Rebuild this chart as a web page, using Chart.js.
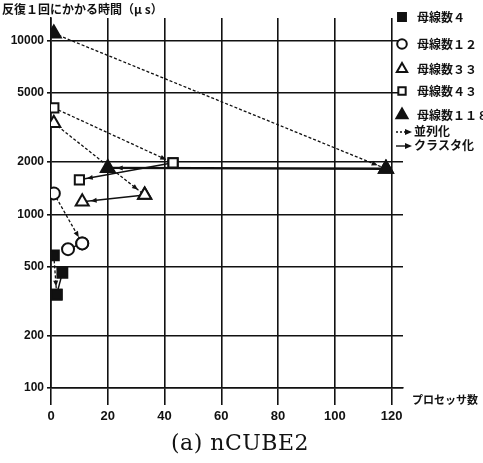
<!DOCTYPE html>
<html>
<head>
<meta charset="utf-8">
<script src="https://cdn.jsdelivr.net/npm/chart.js@4/dist/chart.umd.min.js"></script>
<style>
  html, body { margin: 0; padding: 0; background: #fff; }
  #wrap { width: 483px; height: 463px; position: relative; }
</style>
</head>
<body>
<div id="wrap"><canvas id="chart"></canvas></div>
<script>
// 母線数 series
const seriesNames = ['母線数４', '母線数１２', '母線数３３', '母線数４３', '母線数１１８'];
// 1 processor (start of 並列化)
const serialX = [1, 1, 1, 1, 1];
const serialY = [580, 1320, 3350, 4100, 11000];
// parallelized result
const parallelX = [2, 11, 33, 43, 118];
const parallelY = [345, 680, 1290, 1980, 1830];
// clustered result
const clusterX = [4, 6, 11, 10, 20];
const clusterY = [460, 630, 1180, 1580, 1850];
// axis ticks
const xTicks = [0, 20, 40, 60, 80, 100, 120];
const yTicks = [100, 200, 500, 1000, 2000, 5000, 10000];

// marker look per series
const markers = [
    { style: 'rect', fill: true, r: 7 },
    { style: 'circle', fill: false, r: 6 },
    { style: 'triangle', fill: false, r: 7.5 },
    { style: 'rect', fill: false, r: 6.5 },
    { style: 'triangle', fill: true, r: 8 }
];

const INK = '#111';
const jpFont = '"Noto Sans CJK JP", sans-serif';

// build datasets: dotted 並列化 + solid クラスタ化 per series
const datasets = [];
seriesNames.forEach((name, i) => {
    const m = markers[i];
    const pointOpts = {
        pointStyle: m.style,
        pointRadius: m.r,
        pointHoverRadius: m.r,
        pointBackgroundColor: m.fill ? INK : '#fff',
        pointBorderColor: INK,
        pointBorderWidth: 2
    };
    datasets.push(Object.assign({
        label: name + ' 並列化',
        data: [{ x: serialX[i], y: serialY[i] }, { x: parallelX[i], y: parallelY[i] }],
        showLine: true,
        borderColor: INK,
        borderWidth: 1.3,
        borderDash: [3, 2],
        arrow: true
    }, pointOpts));
    datasets.push(Object.assign({
        label: name + ' クラスタ化',
        data: [{ x: parallelX[i], y: parallelY[i] }, { x: clusterX[i], y: clusterY[i] }],
        showLine: true,
        borderColor: INK,
        borderWidth: i === 4 ? 2.4 : 1.5,
        arrow: true
    }, pointOpts));
});

// small arrowheads at the end of each segment
const arrowPlugin = {
    id: 'arrows',
    afterDatasetsDraw(chart) {
        const ctx = chart.ctx;
        chart.data.datasets.forEach((ds, i) => {
            if (!ds.arrow) return;
            const pts = chart.getDatasetMeta(i).data;
            const a = pts[0], b = pts[1];
            const len = Math.hypot(b.x - a.x, b.y - a.y);
            const off = ds.pointRadius + 1;
            if (len < off * 2 + 8) return;
            const ang = Math.atan2(b.y - a.y, b.x - a.x);
            ctx.save();
            ctx.translate(b.x - Math.cos(ang) * off, b.y - Math.sin(ang) * off);
            ctx.rotate(ang);
            ctx.beginPath();
            ctx.moveTo(0, 0);
            ctx.lineTo(-6, -2.5);
            ctx.lineTo(-6, 2.5);
            ctx.closePath();
            ctx.fillStyle = INK;
            ctx.fill();
            ctx.restore();
        });
    }
};

function drawMarker(ctx, m, x, y) {
    ctx.save();
    ctx.lineWidth = 2;
    ctx.strokeStyle = INK;
    ctx.fillStyle = m.fill ? INK : '#fff';
    ctx.beginPath();
    if (m.style === 'rect') {
        const s = m.r * Math.SQRT1_2;
        ctx.rect(x - s, y - s, s * 2, s * 2);
    } else if (m.style === 'circle') {
        ctx.arc(x, y, m.r, 0, Math.PI * 2);
    } else {
        const r = m.r;
        ctx.moveTo(x, y - r);
        ctx.lineTo(x + r * 0.866, y + r * 0.5);
        ctx.lineTo(x - r * 0.866, y + r * 0.5);
        ctx.closePath();
    }
    ctx.fill();
    ctx.stroke();
    ctx.restore();
}

function drawArrowKey(ctx, x0, x1, y, dashed) {
    ctx.save();
    ctx.strokeStyle = INK;
    ctx.fillStyle = INK;
    ctx.lineWidth = 1.4;
    if (dashed) ctx.setLineDash([2, 2]);
    ctx.beginPath();
    ctx.moveTo(x0, y);
    ctx.lineTo(x1 - 6, y);
    ctx.stroke();
    ctx.setLineDash([]);
    ctx.beginPath();
    ctx.moveTo(x1, y);
    ctx.lineTo(x1 - 7, y - 3);
    ctx.lineTo(x1 - 7, y + 3);
    ctx.closePath();
    ctx.fill();
    ctx.restore();
}

// titles, axis name, caption and the hand-placed legend
const textPlugin = {
    id: 'texts',
    afterDraw(chart) {
        const ctx = chart.ctx;
        ctx.save();
        ctx.fillStyle = INK;
        ctx.textBaseline = 'middle';

        ctx.font = 'bold 12px ' + jpFont;
        ctx.textAlign = 'left';
        ctx.fillText('反復１回にかかる時間（μ s）', 2, 9);

        ctx.font = 'bold 11px ' + jpFont;
        ctx.fillText('プロセッサ数', 412, 400);

        // legend
        const rowsY = [17, 44, 69, 91, 115];
        seriesNames.forEach((name, i) => {
            drawMarker(ctx, Object.assign({}, markers[i], { r: markers[i].r * 0.8 }), 402, rowsY[i]);
            ctx.font = 'bold 12px ' + jpFont;
            ctx.fillStyle = INK;
            ctx.fillText(name, 417, rowsY[i]);
        });
        ctx.font = 'bold 12px ' + jpFont;
        drawArrowKey(ctx, 396, 412, 132, true);
        ctx.fillText('並列化', 414, 131);
        drawArrowKey(ctx, 396, 412, 146, false);
        ctx.fillText('クラスタ化', 414, 145);

        ctx.font = '22px "DejaVu Serif", serif';
        ctx.letterSpacing = '0.5px';
        ctx.textAlign = 'center';
        ctx.fillText('(a) nCUBE2', 240, 444);
        ctx.restore();
    }
};

const ctx = document.getElementById('chart').getContext('2d');
new Chart(ctx, {
    type: 'scatter',
    data: { datasets: datasets },
    options: {
        responsive: true,
        maintainAspectRatio: false,
        animation: false,
        devicePixelRatio: 1,
        layout: { padding: { top: 18, right: 80, left: 0, bottom: 0 } },
        plugins: {
            legend: { display: false },
            tooltip: { enabled: false }
        },
        scales: {
            x: {
                type: 'linear',
                min: 0,
                max: 124,
                afterBuildTicks: scale => { scale.ticks = xTicks.map(v => ({ value: v })); },
                afterFit: scale => { scale.height = 75; },
                grid: { color: INK, lineWidth: 1.6, tickLength: 17 },
                border: { display: true, color: INK, width: 1.6 },
                ticks: {
                    autoSkip: false,
                    maxRotation: 0,
                    padding: 4,
                    color: INK,
                    font: { family: '"Liberation Sans", Arial, sans-serif', size: 13, weight: 'bold' },
                    callback: v => String(v)
                }
            },
            y: {
                type: 'logarithmic',
                min: 100,
                max: 13500,
                afterBuildTicks: scale => { scale.ticks = yTicks.map(v => ({ value: v })); },
                afterFit: scale => { scale.width = 51; },
                grid: { color: INK, lineWidth: 1.6, tickLength: 4 },
                border: { display: true, color: INK, width: 1.6 },
                ticks: {
                    autoSkip: false,
                    padding: 3,
                    color: INK,
                    font: { family: '"Liberation Sans", Arial, sans-serif', size: 12, weight: 'bold' },
                    callback: v => String(v)
                }
            }
        }
    },
    plugins: [arrowPlugin, textPlugin]
});
</script>
</body>
</html>
